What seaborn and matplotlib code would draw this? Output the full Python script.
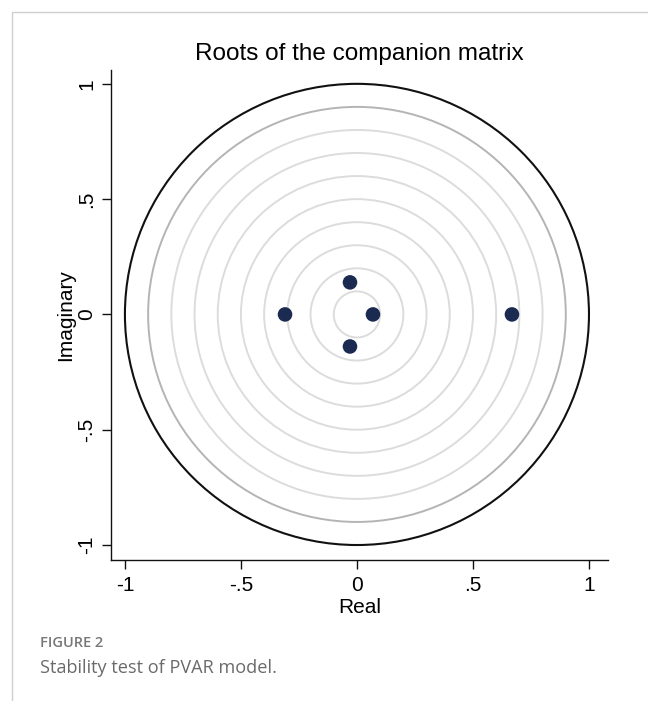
import numpy as np
import pandas as pd
import matplotlib
matplotlib.use("Agg")
import matplotlib.pyplot as plt
from matplotlib.patches import Circle
import seaborn as sns

# Data: eigenvalues (roots of the companion matrix)
real_parts = [0.668, -0.31, 0.069, -0.03, -0.03]
imag_parts = [0.0, 0.0, 0.0, 0.139, -0.139]
ring_radii = [0.1, 0.2, 0.3, 0.4, 0.5, 0.6, 0.7, 0.8]
xtick_vals = [-1, -0.5, 0, 0.5, 1]
xtick_labels = ["-1", "-.5", "0", ".5", "1"]
ytick_vals = [-1, -0.5, 0, 0.5, 1]
ytick_labels = ["-1", "-.5", "0", ".5", "1"]

df = pd.DataFrame({"Real": real_parts, "Imaginary": imag_parts})

sns.set_theme(style="white")
plt.rcParams["font.family"] = ["Liberation Sans", "DejaVu Sans"]

fig = plt.figure(figsize=(6.48, 7.01), dpi=100)
ax = fig.add_axes([111/648, 1-560/701, (608-111)/648, (560-70)/701])

for r in ring_radii:
    ax.add_patch(Circle((0, 0), r, fill=False, edgecolor="#dcdcdc", linewidth=1.4, zorder=1))
ax.add_patch(Circle((0, 0), 0.9, fill=False, edgecolor="#b4b4b4", linewidth=1.4, zorder=1))
ax.add_patch(Circle((0, 0), 1.0, fill=False, edgecolor="#111111", linewidth=1.5, zorder=1))

sns.scatterplot(data=df, x="Real", y="Imaginary", ax=ax, s=110, color="#1a2a50",
                edgecolor="none", zorder=3, legend=False)

ax.set_xlim(-1.06, 1.082)
ax.set_ylim(-1.065, 1.06)
ax.set_xticks(xtick_vals)
ax.set_xticklabels(xtick_labels, fontsize=15)
ax.set_yticks(ytick_vals)
ax.set_yticklabels(ytick_labels, fontsize=15, rotation=90, va="center")
ax.set_xlabel("Real", fontsize=15, labelpad=2, color="black")
ax.set_ylabel("Imaginary", fontsize=15, labelpad=1.5, color="black")
ax.set_title("Roots of the companion matrix", fontsize=17.5, pad=7, color="black")

for s in ["top", "right"]:
    ax.spines[s].set_visible(False)
for s in ["left", "bottom"]:
    ax.spines[s].set_color("#111111")
    ax.spines[s].set_linewidth(1.0)
ax.tick_params(axis="both", direction="out", length=6.5, width=1.0, color="#111111",
               labelcolor="black", bottom=True, left=True)
ax.tick_params(axis="x", pad=5)
ax.tick_params(axis="y", pad=4)

# page frame lines
fig.add_artist(plt.Line2D([12/648, 1], [1-12/701, 1-12/701], color="#cfcfcf", linewidth=1.0))
fig.add_artist(plt.Line2D([12/648, 12/648], [0, 1-12/701], color="#cfcfcf", linewidth=1.0))

fig.text(40/648, 1-643/701, "FIGURE 2", fontsize=10.5, color="#777777", weight="semibold",
         family=["Open Sans", "DejaVu Sans"], va="center", ha="left")
fig.text(40/648, 1-668/701, "Stability test of PVAR model.", fontsize=13.1, color="#6a6a6a",
         family=["Open Sans", "DejaVu Sans"], va="center", ha="left")

fig.savefig("out.png", dpi=100, facecolor="white")
